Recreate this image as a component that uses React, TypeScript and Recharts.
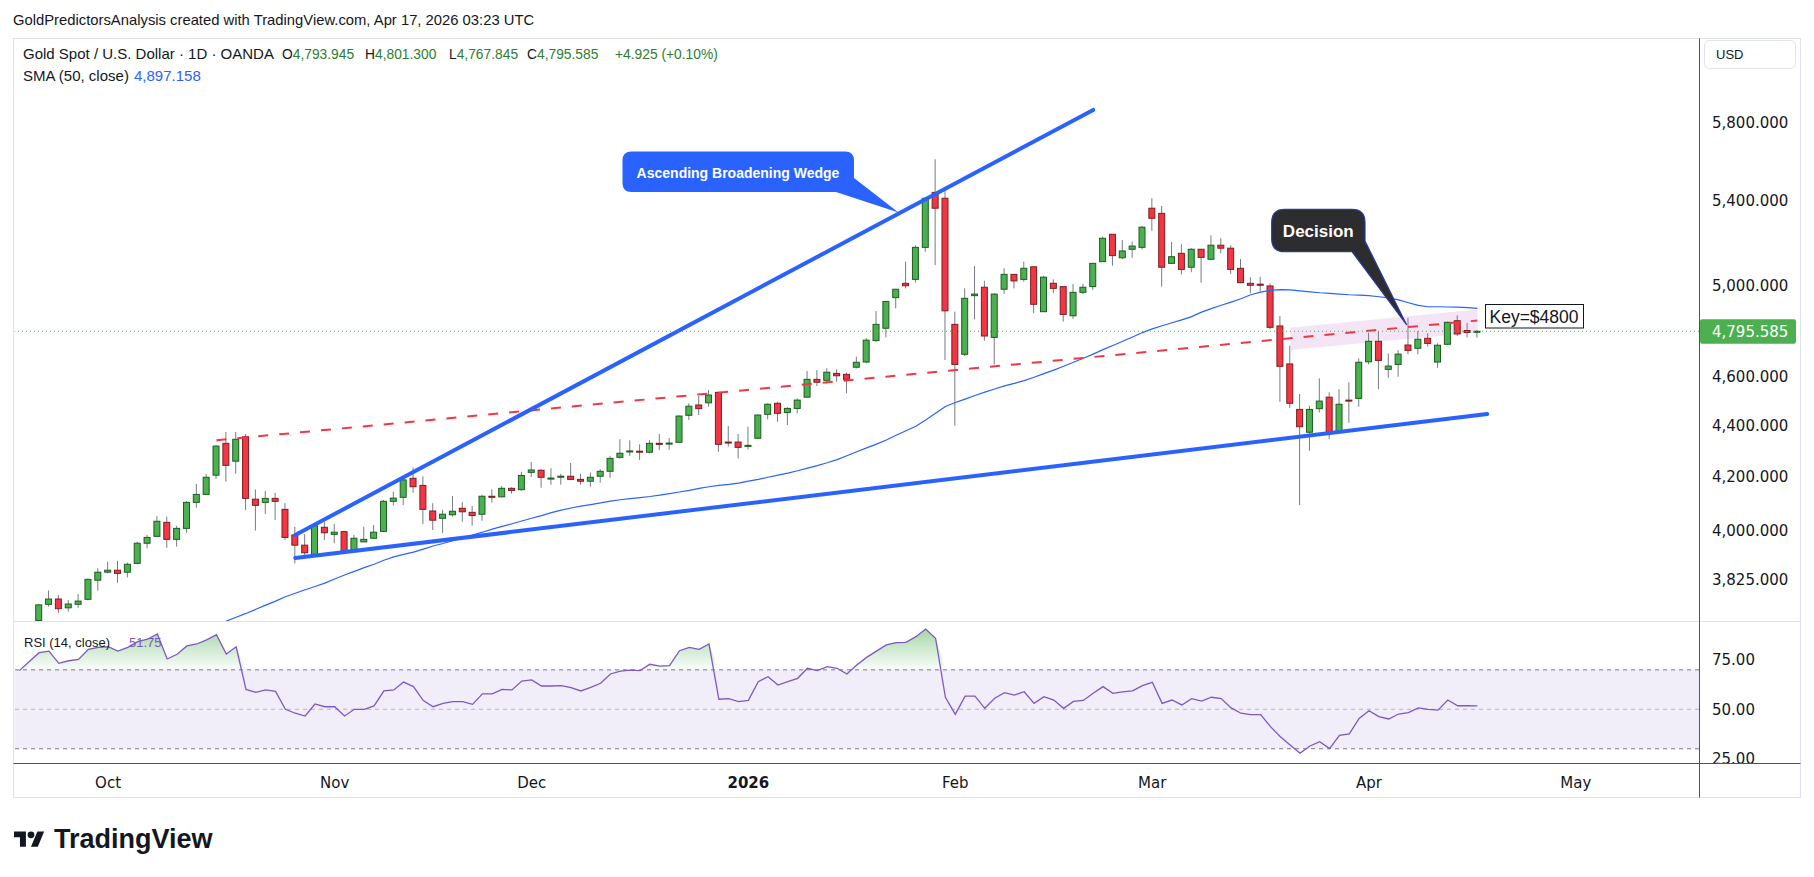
import React from "react";
import {
  ComposedChart,
  Bar,
  Line,
  Area,
  XAxis,
  YAxis,
  ReferenceLine,
  ReferenceArea,
} from "recharts";

// Gold Spot / U.S. Dollar, 1D, OANDA. Daily bars Mon 22 Sep 2025 .. Fri 17 Apr 2026
// [open, high, low, close]
const candles = [
  [3684, 3740, 3680, 3737], [3739, 3786, 3731, 3757], [3757, 3771, 3710, 3724], [3727, 3754, 3714, 3740], [3739, 3774, 3727, 3750],
  [3756, 3828, 3753, 3825], [3822, 3864, 3786, 3850], [3850, 3887, 3846, 3857], [3857, 3890, 3813, 3846], [3850, 3884, 3832, 3878],
  [3881, 3959, 3878, 3953], [3953, 3983, 3935, 3974], [3978, 4052, 3977, 4033], [4029, 4050, 3937, 3967], [3967, 4016, 3941, 4007],
  [4007, 4108, 3991, 4103], [4103, 4172, 4083, 4133], [4133, 4211, 4132, 4198], [4206, 4323, 4192, 4319], [4330, 4375, 4181, 4244],
  [4260, 4375, 4212, 4346], [4356, 4367, 4075, 4118], [4115, 4152, 3999, 4092], [4103, 4146, 4060, 4118], [4118, 4139, 4038, 4107],
  [4077, 4100, 3965, 3974], [3983, 4013, 3881, 3946], [3946, 3986, 3905, 3919], [3913, 4026, 3912, 4016], [4011, 4031, 3965, 3991],
  [3985, 4023, 3953, 3993], [3995, 3999, 3920, 3924], [3926, 3983, 3925, 3971], [3958, 4013, 3957, 3967], [3971, 4019, 3970, 3993],
  [3996, 4112, 3995, 4107], [4107, 4143, 4091, 4119], [4122, 4203, 4093, 4188], [4194, 4236, 4139, 4162], [4167, 4202, 4023, 4077],
  [4071, 4100, 4001, 4037], [4044, 4075, 3991, 4059], [4057, 4127, 4050, 4070], [4081, 4104, 4031, 4068], [4066, 4090, 4017, 4054],
  [4059, 4131, 4035, 4126], [4126, 4152, 4102, 4122], [4124, 4165, 4122, 4156], [4156, 4160, 4136, 4148], [4151, 4219, 4147, 4205],
  [4217, 4257, 4200, 4226], [4225, 4229, 4158, 4198], [4193, 4233, 4169, 4195], [4199, 4211, 4170, 4202], [4202, 4253, 4187, 4190],
  [4190, 4211, 4170, 4183], [4183, 4216, 4162, 4198], [4202, 4229, 4177, 4221], [4221, 4280, 4196, 4271], [4275, 4346, 4270, 4291],
  [4297, 4342, 4281, 4300], [4299, 4326, 4265, 4295], [4295, 4343, 4291, 4330], [4330, 4367, 4304, 4326], [4328, 4351, 4304, 4331],
  [4334, 4443, 4333, 4439], [4442, 4491, 4423, 4479], [4484, 4521, 4443, 4469], [4493, 4546, 4477, 4525], [4536, 4539, 4297, 4326],
  [4335, 4399, 4317, 4332], [4335, 4367, 4271, 4314], [4318, 4396, 4306, 4322], [4350, 4446, 4346, 4443], [4446, 4491, 4426, 4487],
  [4491, 4497, 4416, 4450], [4453, 4475, 4403, 4470], [4470, 4511, 4450, 4504], [4516, 4625, 4515, 4590], [4590, 4629, 4562, 4578],
  [4586, 4637, 4573, 4620], [4615, 4632, 4580, 4605], [4611, 4618, 4532, 4590], [4641, 4686, 4636, 4662], [4663, 4766, 4658, 4757],
  [4755, 4885, 4750, 4826], [4809, 4930, 4769, 4928], [4945, 4984, 4897, 4983], [5010, 5110, 4987, 4999], [5028, 5187, 5013, 5177],
  [5177, 5419, 5156, 5414], [5443, 5610, 5094, 5365], [5414, 5455, 4672, 4886], [4826, 4882, 4400, 4653], [4696, 4987, 4689, 4942],
  [4954, 5090, 4848, 4961], [4992, 5022, 4755, 4775], [4769, 4965, 4653, 4961], [4983, 5079, 4961, 5051], [5051, 5052, 4987, 5021],
  [5028, 5110, 5017, 5079], [5086, 5087, 4875, 4915], [4882, 5044, 4881, 5038], [5010, 5028, 4965, 4987], [4995, 4996, 4838, 4870],
  [4864, 5007, 4850, 4969], [4969, 5007, 4961, 4992], [4995, 5103, 4980, 5102], [5110, 5228, 5109, 5220], [5239, 5240, 5091, 5138],
  [5128, 5212, 5122, 5160], [5168, 5204, 5128, 5183], [5177, 5279, 5168, 5273], [5365, 5414, 5256, 5316], [5340, 5376, 4995, 5084],
  [5102, 5202, 5101, 5133], [5149, 5192, 5051, 5074], [5084, 5173, 5061, 5168], [5168, 5169, 5013, 5130], [5121, 5234, 5118, 5187],
  [5187, 5221, 5149, 5173], [5173, 5187, 5053, 5074], [5079, 5122, 5010, 5013], [5010, 5038, 4965, 5001], [5006, 5040, 4972, 5001],
  [4998, 5010, 4804, 4813], [4819, 4863, 4497, 4645], [4655, 4733, 4472, 4491], [4466, 4529, 4093, 4396], [4374, 4480, 4301, 4466],
  [4469, 4594, 4453, 4500], [4516, 4536, 4347, 4370], [4380, 4549, 4370, 4487], [4504, 4578, 4412, 4501], [4511, 4679, 4477, 4662],
  [4664, 4789, 4653, 4752], [4752, 4794, 4549, 4670], [4632, 4700, 4597, 4646], [4653, 4714, 4601, 4697], [4736, 4855, 4696, 4713],
  [4722, 4797, 4696, 4761], [4765, 4787, 4729, 4743], [4663, 4743, 4639, 4735], [4739, 4838, 4738, 4835], [4842, 4866, 4775, 4784],
  [4799, 4833, 4769, 4790.66], [4793.945, 4801.3, 4767.845, 4795.585],
];

const SMA_FROM = 19;
const sma50 = [
  3682, 3695, 3708, 3722, 3736, 3750, 3765, 3777, 3789, 3800,
  3812, 3826, 3840, 3853, 3866, 3878, 3892, 3904, 3913, 3921,
  3932, 3943, 3952, 3962, 3972, 3983, 3993, 4004, 4014, 4024,
  4034, 4044, 4054, 4065, 4074, 4082, 4089, 4095, 4101, 4108,
  4113, 4117, 4121, 4125, 4130, 4136, 4142, 4148, 4156, 4162,
  4167, 4171, 4176, 4183, 4190, 4198, 4206, 4214, 4223, 4233,
  4243, 4254, 4266, 4281, 4297, 4312, 4327, 4343, 4362, 4380,
  4398, 4423, 4450, 4478, 4494, 4508, 4523, 4537, 4550, 4563,
  4573, 4585, 4599, 4614, 4629, 4645, 4662, 4679, 4697, 4716,
  4734, 4752, 4771, 4790, 4806, 4820, 4833, 4846, 4860, 4880,
  4896, 4911, 4925, 4940, 4958, 4970, 4978, 4981, 4980, 4976,
  4971, 4967, 4964, 4961, 4958, 4956, 4954, 4949, 4944, 4935,
  4922, 4910, 4904, 4904, 4903, 4902, 4900, 4897.158,
];

// RSI(14, close), starting two bars before the first candle
const RSI_LEAD = 2;
const rsi14 = [
  69.6, 74.2, 78.7, 79.5, 73.3, 74.6, 75.3, 80.4, 81.4, 81.7,
  79.5, 81.4, 84.3, 85.5, 88.2, 75.5, 77.9, 82.1, 83.1, 85.2,
  87.8, 78.0, 81.7, 60.1, 58.6, 59.8, 59.1, 50.0, 48.0, 46.6,
  52.7, 51.3, 51.3, 46.6, 50.0, 50.0, 51.7, 59.3, 59.8, 63.8,
  61.5, 54.4, 51.3, 53.0, 53.9, 53.9, 52.5, 57.8, 57.8, 60.1,
  59.8, 64.3, 64.9, 61.8, 61.8, 62.0, 61.0, 59.3, 61.1, 63.2,
  67.9, 69.4, 69.9, 69.6, 72.8, 71.9, 72.1, 79.7, 81.4, 80.4,
  83.1, 55.1, 55.4, 53.9, 54.5, 64.0, 66.5, 62.3, 64.0, 65.7,
  70.8, 69.6, 71.6, 70.8, 67.9, 72.5, 76.3, 79.5, 82.6, 83.8,
  83.9, 86.8, 90.7, 86.0, 56.1, 47.4, 56.7, 56.7, 50.5, 55.6,
  58.4, 57.2, 58.9, 53.0, 56.4, 54.7, 50.5, 54.0, 54.5, 58.1,
  61.5, 58.1, 58.8, 59.3, 62.0, 63.7, 53.0, 54.7, 52.2, 55.4,
  54.2, 56.1, 55.4, 50.7, 48.0, 47.3, 47.3, 41.2, 36.1, 31.9,
  27.7, 31.4, 33.6, 30.1, 36.8, 37.5, 45.4, 49.3, 46.3, 45.1,
  47.6, 48.3, 50.7, 50.0, 49.6, 54.7, 51.8, 51.8, 51.75,
];

const FUTURE_BARS = 22;

const monthTicks = [
  { i: 7, label: "Oct" },
  { i: 30, label: "Nov" },
  { i: 50, label: "Dec" },
  { i: 72, label: "2026", bold: true },
  { i: 93, label: "Feb" },
  { i: 113, label: "Mar" },
  { i: 135, label: "Apr" },
  { i: 156, label: "May" },
];

const priceTicks = [3825, 4000, 4200, 4400, 4600, 5000, 5400, 5800];
const rsiTicks = [25, 50, 75];
const lastPrice = 4795.585;
const lastBar = { o: 4793.945, h: 4801.3, l: 4767.845, chg: 4.925, pct: 0.1 };

// drawings: bar index + price
const wedgeUpper = [{ i: 26, p: 3983 }, { i: 107, p: 5868 }];
const wedgeLower = [{ i: 26, p: 3900 }, { i: 147, p: 4447 }];
const keyLine = [{ i: 18, p: 4342 }, { i: 146, p: 4843 }];
const keyZone = [{ i: 127, lo: 4714, hi: 4811 }, { i: 146, lo: 4791, hi: 4892 }];

const rows = Array.from({ length: RSI_LEAD + candles.length + FUTURE_BARS }, (_, k) => {
  const i = k - RSI_LEAD;
  const c = i >= 0 ? candles[i] : undefined;
  const r = rsi14[k];
  const s = i >= SMA_FROM ? sma50[i - SMA_FROM] : undefined;
  const z = keyZone.find((e) => e.i === i);
  return {
    i,
    o: c ? c[0] : null,
    h: c ? c[1] : null,
    l: c ? c[2] : null,
    cl: c ? c[3] : null,
    range: c ? [c[2], c[1]] : null,
    sma: s ?? null,
    rsi: r ?? null,
    ob: r != null ? [70, Math.max(r, 70)] : null,
    os: r != null ? [Math.min(r, 30), 30] : null,
    zone: z ? [z.lo, z.hi] : null,
  };
});

const fmt = (v: number, d: number) =>
  v.toLocaleString("en-US", { minimumFractionDigits: d, maximumFractionDigits: d });

const AXIS_FONT = "DejaVu Sans";
const UI_FONT = "Liberation Sans, Arial, sans-serif";

function Candle(props: any) {
  const { x, y, width, height, payload } = props;
  if (!payload || payload.o == null || !Number.isFinite(y) || !Number.isFinite(height)) return null;
  const top = Math.min(y, y + height);
  const bottom = Math.max(y, y + height);
  const lnH = Math.log(payload.h);
  const lnL = Math.log(payload.l);
  const at = (p: number) => top + ((lnH - Math.log(p)) / (lnH - lnL)) * (bottom - top);
  const cx = x + width / 2;
  const up = payload.cl >= payload.o;
  const yo = at(payload.o);
  const yc = at(payload.cl);
  const bt = Math.min(yo, yc);
  const bh = Math.max(Math.abs(yc - yo), 1);
  return (
    <g>
      <line x1={cx} x2={cx} y1={top} y2={bottom} stroke="#787b86" strokeWidth={1} />
      <rect
        x={cx - 3}
        y={bt}
        width={6}
        height={bh}
        fill={up ? "#4caf50" : "#f23645"}
        stroke={up ? "#1b5e20" : "#7f1d1d"}
        strokeWidth={1}
      />
    </g>
  );
}

function PriceTag(props: any) {
  const { viewBox } = props;
  if (!viewBox) return null;
  const x = viewBox.x + viewBox.width;
  const y = viewBox.y;
  return (
    <g>
      <rect x={x + 1} y={y - 12} width={96} height={24.5} rx={2} fill="#4caf50" />
      <text x={x + 13} y={y} dy="0.36em" fontFamily={AXIS_FONT} fontSize={15} fill="#ffffff">
        {fmt(lastPrice, 3)}
      </text>
    </g>
  );
}

function TimeTick(props: any) {
  const { x, y, payload } = props;
  const t = monthTicks.find((m) => m.i === payload.value);
  if (!t) return null;
  return (
    <text
      x={x}
      y={y}
      dy={17}
      textAnchor="middle"
      fontFamily={AXIS_FONT}
      fontSize={15}
      fontWeight={t.bold ? 700 : 400}
      fill="#131722"
    >
      {t.label}
    </text>
  );
}

function callout(L: number, T: number, R: number, B: number, r: number, attachY: number, tipX: number, tipY: number, baseX: number) {
  return `M${L + r},${T} H${R - r} Q${R},${T} ${R},${T + r} V${attachY} L${tipX},${tipY} L${baseX},${B} H${L + r} Q${L},${B} ${L},${B - r} V${T + r} Q${L},${T} ${L + r},${T} Z`;
}

const axisTick = { fontFamily: AXIS_FONT, fontSize: 15, fill: "#131722" };
const chartMargin = { top: 0, right: 13, bottom: 0, left: 14.5 };
const UP_TEXT = "#2e7d32";

export default function App() {
  return (
    <div style={{ position: "relative", width: 1814, height: 877, background: "#ffffff", overflow: "hidden" }}>
      <style>{"body{margin:0}"}</style>

      <div style={{ position: "absolute", left: 0, top: 38 }}>
        <ComposedChart width={1814} height={583} data={rows} margin={chartMargin}>
          <XAxis dataKey="i" type="category" scale="band" hide />
          <YAxis
            orientation="right"
            width={102}
            scale="log"
            domain={[3682.5, 6265.6]}
            allowDataOverflow
            ticks={priceTicks}
            tickFormatter={(v: number) => fmt(v, 3)}
            axisLine={false}
            tickLine={false}
            tickMargin={7}
            tick={axisTick}
          />
          <Bar dataKey="range" barSize={7} shape={<Candle />} isAnimationActive={false} />
          <Line
            dataKey="sma"
            type="linear"
            stroke="#2962ff"
            strokeWidth={1.2}
            dot={false}
            activeDot={false}
            isAnimationActive={false}
          />
          <Area
            dataKey="zone"
            type="linear"
            stroke="none"
            fill="#9c27b0"
            fillOpacity={0.12}
            connectNulls
            dot={false}
            activeDot={false}
            isAnimationActive={false}
          />
          <ReferenceLine
            segment={keyLine.map((d) => ({ x: d.i, y: d.p }))}
            stroke="#f23645"
            strokeWidth={2}
            strokeDasharray="10 11"
            ifOverflow="visible"
          />
          <ReferenceLine
            segment={wedgeUpper.map((d) => ({ x: d.i, y: d.p }))}
            stroke="#2962ff"
            strokeWidth={4}
            strokeLinecap="round"
            ifOverflow="visible"
          />
          <ReferenceLine
            segment={wedgeLower.map((d) => ({ x: d.i, y: d.p }))}
            stroke="#2962ff"
            strokeWidth={4}
            strokeLinecap="round"
            ifOverflow="visible"
          />
          <ReferenceLine
            y={lastPrice}
            stroke="#4caf50"
            strokeWidth={1}
            strokeDasharray="1 3"
            label={<PriceTag />}
          />
        </ComposedChart>
      </div>

      <div style={{ position: "absolute", left: 0, top: 621 }}>
        <ComposedChart width={1814} height={177} data={rows} margin={chartMargin}>
          <defs>
            <linearGradient id="rsiOb" gradientUnits="userSpaceOnUse" x1="0" y1="0" x2="0" y2="49">
              <stop offset="0%" stopColor="#4caf50" stopOpacity={0.6} />
              <stop offset="100%" stopColor="#4caf50" stopOpacity={0.02} />
            </linearGradient>
            <linearGradient id="rsiOs" gradientUnits="userSpaceOnUse" x1="0" y1="128" x2="0" y2="142">
              <stop offset="0%" stopColor="#f23645" stopOpacity={0.02} />
              <stop offset="100%" stopColor="#f23645" stopOpacity={0.5} />
            </linearGradient>
          </defs>
          <XAxis
            dataKey="i"
            type="category"
            scale="band"
            height={35}
            ticks={monthTicks.map((t) => t.i)}
            interval={0}
            tick={<TimeTick />}
            axisLine={false}
            tickLine={false}
          />
          <YAxis
            orientation="right"
            width={102}
            domain={[22.78, 94.75]}
            allowDataOverflow
            ticks={rsiTicks}
            tickFormatter={(v: number) => v.toFixed(2)}
            axisLine={false}
            tickLine={false}
            tickMargin={7}
            tick={axisTick}
          />
          <ReferenceArea y1={30} y2={70} fill="#7e57c2" fillOpacity={0.1} stroke="none" ifOverflow="visible" />
          <ReferenceLine y={70} stroke="#787b86" strokeDasharray="4 4" />
          <ReferenceLine y={50} stroke="#787b86" strokeOpacity={0.5} strokeDasharray="4 4" />
          <ReferenceLine y={30} stroke="#787b86" strokeDasharray="4 4" />
          <Area dataKey="ob" type="linear" stroke="none" fill="url(#rsiOb)" fillOpacity={1} dot={false} activeDot={false} isAnimationActive={false} />
          <Area dataKey="os" type="linear" stroke="none" fill="url(#rsiOs)" fillOpacity={1} dot={false} activeDot={false} isAnimationActive={false} />
          <Line dataKey="rsi" type="linear" stroke="#7e57c2" strokeWidth={1.3} dot={false} activeDot={false} isAnimationActive={false} />
        </ComposedChart>
      </div>

      <svg width={1814} height={877} style={{ position: "absolute", left: 0, top: 0, pointerEvents: "none" }}>
        {/* hide the part of the 25.00 label below the pane */}
        <rect x={1700} y={764} width={100} height={33} fill="#ffffff" />

        {/* frame */}
        <rect x={13.5} y={38.5} width={1787} height={759} fill="none" stroke="#e0e3eb" />
        <line x1={13.5} x2={1800.5} y1={621.5} y2={621.5} stroke="#e0e3eb" />
        <line x1={13.5} x2={1800.5} y1={763.5} y2={763.5} stroke="#50535e" />
        <line x1={1699.5} x2={1699.5} y1={38.5} y2={797.5} stroke="#50535e" />

        {/* header */}
        <text x={13} y={25} fontFamily={UI_FONT} fontSize={14.8} fill="#131722">
          GoldPredictorsAnalysis created with TradingView.com, Apr 17, 2026 03:23 UTC
        </text>
        <g fontFamily={UI_FONT} fontSize={15}>
          <text x={23} y={58.5} fill="#131722">Gold Spot / U.S. Dollar · 1D · OANDA</text>
          <text x={23} y={80.5} fill="#131722">SMA (50, close)</text>
          <text x={134} y={80.5} fill="#2962ff">{fmt(sma50[sma50.length - 1], 3)}</text>
        </g>
        <g fontFamily={UI_FONT} fontSize={13.8}>
          <text x={282} y={58.5} fill="#131722">O<tspan fill={UP_TEXT}>{fmt(lastBar.o, 3)}</tspan></text>
          <text x={365} y={58.5} fill="#131722">H<tspan fill={UP_TEXT}>{fmt(lastBar.h, 3)}</tspan></text>
          <text x={449} y={58.5} fill="#131722">L<tspan fill={UP_TEXT}>{fmt(lastBar.l, 3)}</tspan></text>
          <text x={527} y={58.5} fill="#131722">C<tspan fill={UP_TEXT}>{fmt(lastPrice, 3)}</tspan></text>
          <text x={615} y={58.5} fill={UP_TEXT}>
            {`+${fmt(lastBar.chg, 3)} (+${fmt(lastBar.pct, 2)}%)`}
          </text>
        </g>
        <g fontFamily={UI_FONT} fontSize={13}>
          <text x={24} y={646.5} fill="#131722">RSI (14, close)</text>
          <text x={129} y={646.5} fill="#7e57c2">{rsi14[rsi14.length - 1].toFixed(2)}</text>
        </g>

        {/* currency button */}
        <rect x={1704.5} y={40.5} width={91} height={28} rx={5} fill="#ffffff" stroke="#e0e3eb" />
        <text x={1716} y={59} fontFamily={UI_FONT} fontSize={13} fill="#131722">USD</text>

        {/* callouts */}
        <path d={callout(622.5, 151.5, 854, 192, 9, 178, 898.5, 212.5, 836)} fill="#2962ff" />
        <text x={738} y={177.5} textAnchor="middle" fontFamily={UI_FONT} fontSize={14} fontWeight={700} fill="#ffffff">
          Ascending Broadening Wedge
        </text>
        <path
          d={callout(1271.7, 209.3, 1365, 251.7, 13, 241, 1406.7, 325, 1352)}
          fill="#2d2d2f"
          stroke="#2a3aa8"
          strokeWidth={1.2}
        />
        <text x={1318.3} y={236.5} textAnchor="middle" fontFamily={UI_FONT} fontSize={17} fontWeight={700} fill="#ffffff">
          Decision
        </text>

        <rect x={1485.5} y={304.5} width={98} height={23.5} fill="#ffffff" stroke="#131722" />
        <text x={1489.5} y={322.5} fontFamily={UI_FONT} fontSize={17.5} fill="#131722">Key=$4800</text>

        {/* TradingView mark */}
        <g transform="translate(14,828) scale(0.85)" fill="#131722">
          <path d="M14 22H7V11H0V4h14v18z" />
          <circle cx={20} cy={8} r={4} />
          <path d="M28 22h-8l7.5-18h8L28 22z" />
        </g>
        <text x={54} y={848} fontFamily={UI_FONT} fontSize={27} fontWeight={700} fill="#131722">TradingView</text>
      </svg>
    </div>
  );
}
